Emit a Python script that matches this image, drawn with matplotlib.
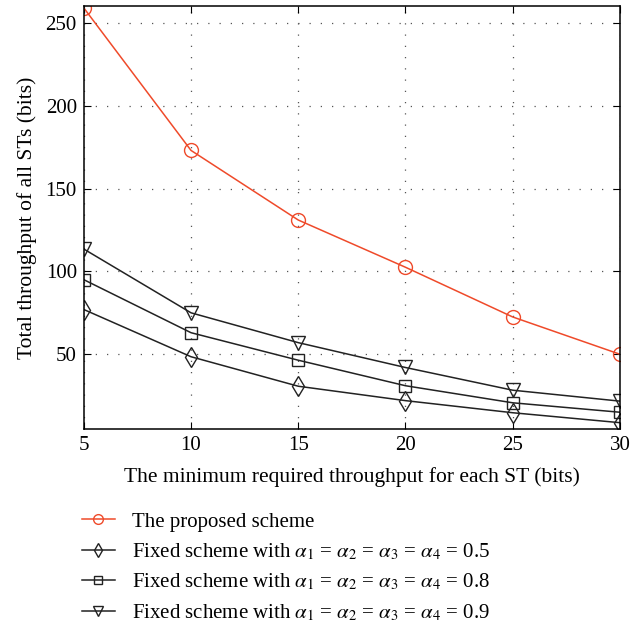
import numpy as np
import matplotlib.pyplot as plt

plt.rcParams['font.family'] = ['Liberation Serif', 'DejaVu Serif']
plt.rcParams['mathtext.fontset'] = 'stix'

x = [5, 10, 15, 20, 25, 30]
proposed = [259, 173, 131, 102.5, 72.5, 50]
fixed_05 = [77, 48.5, 30.7, 22, 14.7, 8.7]
fixed_08 = [95, 63, 46.4, 31, 20.7, 15]
fixed_09 = [113.5, 75, 57, 42, 28.3, 21.7]

labels = [
    'The proposed scheme',
    r'Fixed scheme with $\alpha_1$ = $\alpha_2$ = $\alpha_3$ = $\alpha_4$ = 0.5',
    r'Fixed scheme with $\alpha_1$ = $\alpha_2$ = $\alpha_3$ = $\alpha_4$ = 0.8',
    r'Fixed scheme with $\alpha_1$ = $\alpha_2$ = $\alpha_3$ = $\alpha_4$ = 0.9',
]

red = '#ef4a2a'
fig = plt.figure(figsize=(6.3, 6.26), dpi=100)
ax = fig.add_axes([0.133, 0.315, 0.851, 0.675])

ax.plot(x, proposed, color=red, marker='o', ms=10, mfc='none', lw=1.1, label=labels[0])
ax.plot(x, fixed_05, color='#222222', marker='d', ms=10, mfc='none', lw=1.1, label=labels[1])
ax.plot(x, fixed_08, color='#222222', marker='s', ms=8, mfc='none', lw=1.1, label=labels[2])
ax.plot(x, fixed_09, color='#222222', marker='v', ms=10, mfc='none', lw=1.1, label=labels[3])

ax.set_xlim(5, 30)
ax.set_ylim(5, 260)
ax.set_xticks(x)
ax.set_yticks([50, 100, 150, 200, 250])
ax.grid(True, linestyle=(0, (1, 8)), color='#555555', lw=0.9)
ax.tick_params(direction='in', top=True, right=True, labelsize=15, length=5, pad=5)
for s in ax.spines.values():
    s.set_linewidth(1.1)

ax.set_xlabel('The minimum required throughput for each ST (bits)', fontsize=15.5, labelpad=9)
ax.set_ylabel('Total throughput of all STs (bits)', fontsize=15.5, labelpad=6)

handles, labs = ax.get_legend_handles_labels()
fig.legend(handles, labs, loc='upper left', bbox_to_anchor=(0.1, 0.212), frameon=False,
           fontsize=15, handlelength=1.6, labelspacing=0.47, handletextpad=0.8,
           markerscale=0.7)

fig.savefig('out.png', dpi=100)
